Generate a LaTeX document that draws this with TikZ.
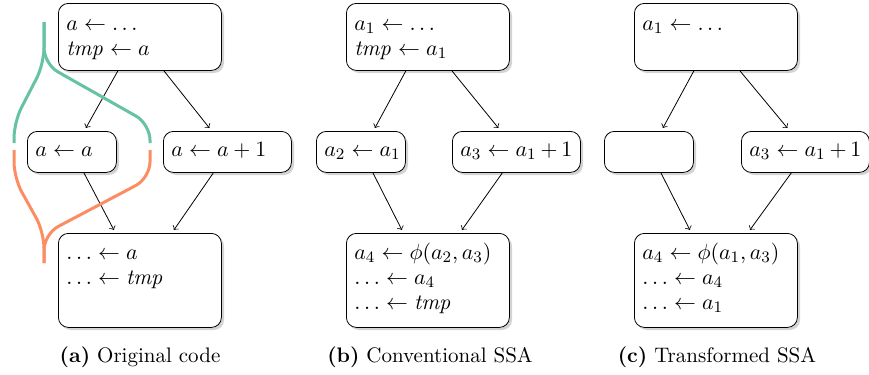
\documentclass[tikz,border=0pt]{standalone}
\usepackage{amssymb}
\usetikzlibrary{arrows,shadows}
\definecolor{livegreen}{HTML}{66C2A5}
\definecolor{liveorange}{HTML}{FC8D62}

\begin{document}
\begin{tikzpicture}[x=0.5pt, y=-0.5pt,
  blk/.style={draw, rounded corners=5pt, fill=white, anchor=north west, align=left,
    inner xsep=4pt, inner ysep=0pt, font=\fontsize{11}{12.5}\selectfont,
    execute at begin node={\relpenalty=10000 \binoppenalty=10000},
    drop shadow={shadow xshift=1.3pt, shadow yshift=-1.3pt, opacity=.35}},
  topblk/.style={blk, text width=73.5pt, text height=13.5pt, text depth=20pt},
  midl/.style={blk, text width=36.5pt, text height=12.5pt, text depth=8pt},
  midr/.style={blk, text width=56pt, text height=12.5pt, text depth=8pt},
  botblk/.style={blk, text width=73.5pt, text height=13pt, text depth=34pt},
  edge/.style={->, >=to, thin},
  live/.style={line width=1.5pt, rounded corners=8pt},
  caption/.style={font=\fontsize{10.5}{12}\selectfont}]
\useasboundingbox (0,0) rectangle (869,375);
% (a) original code
\node[topblk] (ta) at (58,3) {$a \gets \ldots$\\ $\mathit{tmp} \gets a$};
\node[midl] (la) at (27,131) {$a \gets a$};
\node[midr] (ra) at (163,131) {$a \gets a+1$};
\node[botblk] (ba) at (58,233) {$\ldots \gets a$\\ $\ldots \gets \mathit{tmp}$};
\node[caption] (capa) at (140,357) {\textbf{(a)} Original code};
% (b) conventional SSA
\node[topblk] (tb) at (346,3) {$a_1 \gets \ldots$\\ $\mathit{tmp} \gets a_1$};
\node[midl] (lb) at (316,131) {$a_2 \gets a_1$};
\node[midr] (rb) at (452,131) {$a_3 \gets a_1+1$};
\node[botblk] (bb) at (346,233) {$a_4 \gets \phi(a_2,a_3)$\\ $\ldots \gets a_4$\\ $\ldots \gets \mathit{tmp}$};
\node[caption] (capb) at (430,357) {\textbf{(b)} Conventional SSA};
% (c) transformed SSA
\node[topblk] (tc) at (634,3) {$a_1 \gets \ldots$};
\node[midl] (lc) at (604,131) {};
\node[midr] (rc) at (741,131) {$a_3 \gets a_1+1$};
\node[botblk] (bc) at (634,233) {$a_4 \gets \phi(a_1,a_3)$\\ $\ldots \gets a_4$\\ $\ldots \gets a_1$};
\node[caption] (capc) at (717,357) {\textbf{(c)} Transformed SSA};
% edges
\foreach \p in {a,b,c} {
    \draw[edge] ([xshift=-11pt]t\p.south) -- ([xshift=7pt,yshift=1.5pt]l\p.north);
    \draw[edge] ([xshift=12pt]t\p.south) -- ([xshift=-9pt,yshift=1.5pt]r\p.north);
    \draw[edge] ([xshift=6pt]l\p.south) -- ([xshift=-13pt,yshift=1.5pt]b\p.north);
    \draw[edge] ([xshift=-7pt]r\p.south) -- ([xshift=17pt,yshift=1.5pt]b\p.north);
}
% live ranges of a
\draw[live, livegreen] (44,22) -- (44,64) -- (14,122) -- (14,143);
\draw[live, livegreen] (44,22) -- (44,64) -- (150,124) -- (150,143);
\draw[live, liveorange] (14,150) -- (14,178) -- (44,232) -- (44,263);
\draw[live, liveorange] (150,150) -- (150,178) -- (44,234) -- (44,263);
\end{tikzpicture}
\end{document}
